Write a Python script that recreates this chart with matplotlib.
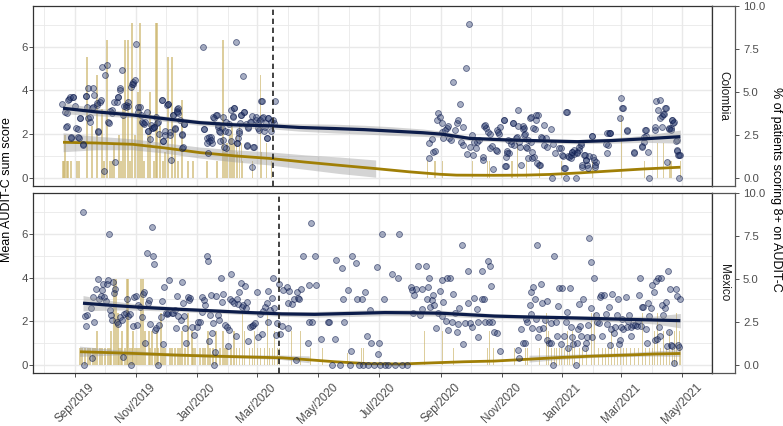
import numpy as np
import matplotlib
matplotlib.use("Agg")
import matplotlib.pyplot as plt
import matplotlib.dates as mdates

plt.rcParams['font.family'] = ['Liberation Sans', 'DejaVu Sans']

# ---------------- data (day offsets from 2019-09-01) ----------------
# Colombia: daily mean AUDIT-C sum score
col_days = [
    -13, -10, -8, -6, -4, -2, 1, 3, 4, 5, 8, 11, 12, 13, 15, 17, 18, 19, 22, 23, 25, 27, 29, 30, 32, 33, 35, 37, 39, 40,
    43, 45, 47, 48, 51, 53, 56, 58, 61, 63, 65, 67, 69, 73, 75, 77, 79, 82, 84, 87, 88, 90, 93, 95, 96, 98, 100, 102, 103,
    102, 105, 107, 107, 109, 128, 129, 132, 133, 134, 136, 137, 139, 142, 143, 144, 145, 147, 148, 150, 151, 153, 154, 156,
    158, 159, 161, 162, 163, 164, 165, 166, 168, 169, 171, 172, 173, 175, 177, 179, 177, 181, 183, 184, 186, 187, 189, 191,
    192, 193, 196, 199, 200,
    -8, -9, -7, -5, -2, 0, -4, 3, 5, 8, 11, 13, 15, 18, 22, 23, 26, 34, 37, 42, 43, 45, 49, 51, 53, 57, 58, 60, 63, 66, 68,
    70, 72, 73, 76, 78, 79, 81, 83, 87, 88, 90, 92, 93, 95, 98, 100, 102, 103, 107, 108, 109, 129, 132, 134, 136, 138, 141,
    143, 145, 148, 149, 151, 156, 158, 159, 162, 164, 166, 169, 172, 173, 176, 178, 181, 183, 185, 187, 188, 190, 192, 193,
    196, 198,
    354, 354, 357, 358, 360, 362, 363, 365, 367, 367, 368, 370, 372, 373, 374, 376, 378, 380, 382, 383, 385, 386, 388, 388,
    391, 392, 394, 395, 397, 398, 399, 401, 402, 404, 408, 409, 411, 413, 415, 417, 418, 422, 422, 424, 429, 431, 431, 432,
    434, 436, 438, 439, 441, 443, 444, 446, 448, 449, 450, 452, 453, 455, 457, 458, 460, 461, 462, 464, 466, 468, 470,
    472, 473, 477, 479, 478, 487, 489, 491, 492, 493, 494, 497, 498, 500, 502, 503, 505, 507, 508, 510, 512, 513, 514, 518,
    519, 521, 522, 533, 534, 535, 536, 546, 547, 548, 549, 553, 560, 568, 570, 571, 572, 574, 575, 581, 582, 584, 586, 586,
    588, 589, 591, 593, 595, 597, 598, 599, 603, 603, 604, 606, 605,
    408, 410, 415, 421, 423, 425, 429, 430, 432, 433, 436, 438, 442, 443, 445, 448, 449, 451, 453, 456, 458, 459, 462, 463,
    465, 467, 470, 481, 485, 488, 490, 492, 495, 497, 498, 500, 503, 505, 507, 508, 511, 512, 515, 518, 520, 521, 532, 533,
    536, 553, 560, 568, 570, 572, 581, 588, 590, 592, 595, 597, 598, 600, 602, 603, 605]
col_scores = [
    3.36, 3.02, 2.37, 3.59, 1.83, 3.71, 2.29, 2.23, 1.83, 2.72, 1.53, 3.76, 3.25, 2.75, 2.57, 3.18, 4.10, 3.79, 3.33, 2.10,
    3.48, 5.09, 0.32, 4.70, 5.16, 2.54, 3.06, 2.95, 3.48, 0.73, 3.71, 4.10, 4.93, 2.87, 3.33, 3.30, 4.17, 4.29, 6.11, 3.02,
    3.25, 2.57, 2.45, 2.14, 1.76, 2.26, 2.34, 2.49, 1.99, 3.56, 1.68, 1.96, 3.36, 2.10, 0.81, 2.87, 2.23, 3.15, 2.95,
    3.06, 2.64, 1.96, 1.37, 2.45, 6.00, 2.23, 1.80, 1.12, 1.68, 1.88, 1.58, 2.72, 2.87, 2.34, 2.14, 1.68, 2.26, 2.80, 2.14,
    1.37, 2.08, 2.45, 1.68, 2.84, 3.18, 6.23, 1.58, 1.80, 2.14, 2.49, 2.87, 4.67, 3.00, 2.45, 1.47, 2.26, 2.57, 2.83, 1.42,
    0.50, 2.64, 2.49, 2.19, 3.51, 2.72, 2.14, 2.49, 1.83, 2.75, 2.57, 2.49, 3.51,
    2.98, 2.34, 3.56, 3.68, 3.68, 3.28, 1.88, 1.88, 2.72, 1.50, 3.74, 4.09, 2.78, 3.26, 3.41, 2.16, 3.56, 2.49, 3.10, 3.48,
    3.68, 4.00, 3.28, 3.22, 3.48, 4.31, 4.39, 4.49, 3.25, 2.87, 2.52, 2.57, 3.03, 2.16, 2.42, 2.26, 2.34, 2.78, 2.57, 3.56,
    1.70, 2.16, 3.33, 3.37, 1.96, 2.87, 2.26, 3.03, 3.17, 2.00, 1.42, 2.46, 2.22, 1.57, 1.88, 1.72, 2.78, 2.86, 2.41, 2.10,
    1.72, 1.42, 2.57, 3.10, 2.78, 3.17, 1.57, 2.03, 2.86, 3.03, 1.50, 2.34, 2.57, 1.42, 2.78, 2.26, 2.64, 3.51, 2.80, 2.34,
    1.84, 2.72, 2.16, 2.63,
    0.92, 1.58, 1.77, 1.19, 1.22, 2.64, 2.95, 2.80, 2.49, 2.08, 1.80, 2.19, 2.29, 2.38, 1.83, 1.73, 4.40, 2.19, 2.49, 2.64,
    3.36, 1.65, 2.34, 1.50, 5.04, 1.07, 7.03, 1.42, 1.96, 1.04, 1.65, 1.35, 1.65, 1.73, 0.96, 2.38, 2.29, 2.08, 1.37, 1.47,
    0.40, 2.19, 1.24, 1.99, 2.64, 0.96, 0.55, 1.22, 1.12, 1.68, 2.49, 1.50, 1.83, 2.38, 1.62, 0.58, 2.23, 1.96, 1.99, 1.37,
    0.89, 2.75, 1.65, 1.19, 0.96, 2.23, 2.64, 2.87, 0.58, 1.80, 1.50,
    1.83, 1.42, 2.23, 1.53, 0.00, 1.35, 1.01, 0.46, 0.00, 3.02, 1.01, 0.89, 1.19, 1.07, 0.00, 1.19, 1.27, 1.50, 0.50, 1.04,
    0.81, 0.58, 0.46, 1.92, 0.96, 0.50, 0.73, 1.12, 1.50, 2.03, 2.03, 2.75, 3.64, 3.18, 3.18, 2.14, 1.16, 1.47, 1.65, 2.19,
    1.90, 1.19, 0.00, 2.19, 3.51, 3.10, 3.56, 2.75, 2.34, 2.90, 3.18, 0.70, 2.23, 2.29, 2.64, 2.49, 1.73, 1.22, 1.04, 1.04,
    0.00,
    0.80, 2.41, 1.98, 1.28, 2.11, 2.34, 2.64, 0.53, 1.11, 1.71, 1.54, 2.49, 1.88, 3.10, 1.42, 2.37, 2.26, 1.39, 1.74, 2.78,
    0.88, 2.26, 2.86, 0.66, 0.58, 1.88, 2.41, 1.11, 1.34, 1.04, 0.43, 3.01, 0.96, 1.04, 1.19, 1.28, 1.11, 1.42, 1.57, 0.58,
    1.04, 0.81, 1.00, 1.92, 0.81, 0.58, 1.54, 2.03, 2.03, 2.19, 1.11, 1.42, 1.88, 2.19, 2.34, 2.82, 2.90, 3.18, 2.26, 2.20,
    2.64, 2.57, 1.70, 1.28, 1.04]

# Mexico: daily mean AUDIT-C sum score
mex_days = [
    8, 9, 10, 11, 12, 16, 17, 18, 19, 21, 23, 24, 26, 27, 28, 29, 31, 32, 33, 34, 35, 36, 37, 38, 39, 40, 42, 43, 45, 47,
    48, 49, 51, 52, 53, 55, 56, 58, 59, 61, 62, 63, 65, 67, 68, 69, 70, 72, 73, 74, 75, 77, 78, 79, 80, 81, 83, 84, 86, 87,
    88, 89, 91, 92, 93, 94, 97, 98, 100, 101, 102, 103, 106, 107, 108, 109, 110, 111, 113, 114, 115, 117, 119, 122, 123,
    125, 127, 127, 129, 130, 132, 133, 134, 135, 136, 137, 138, 139, 140, 141, 143, 144, 146, 147, 148, 150, 152, 153, 154,
    155, 156, 157, 159, 161, 162, 163, 164, 166, 167, 168, 170, 171, 172, 173, 175, 177, 178, 180, 182, 183, 185, 187, 188,
    190, 192, 193, 193, 195, 197, 198, 199, 201, 202, 204, 205, 207, 208,
    212, 213, 213, 214, 217, 219, 221, 222, 223, 224, 226, 228, 233, 234, 234, 236, 237, 240, 241, 246, 253, 254, 257, 260,
    261, 265, 267, 268, 269, 273, 275, 276, 277, 281, 282, 284, 287, 288, 290, 292, 293, 295, 296, 299, 302, 303, 304, 305,
    307, 309, 310, 313, 317, 320, 323, 324, 327, 332, 336, 337, 338, 339, 341, 343, 345, 347, 347, 351, 352, 353, 354, 355,
    357, 358, 359, 361, 363, 365, 367, 367, 368, 371, 372, 373, 375, 377, 378, 380, 382, 383, 384, 387, 388, 390, 393, 393,
    395, 397, 399, 402, 403, 403, 407, 407, 409, 410, 413, 414, 415, 416, 417, 419,
    422, 425, 443, 444, 446, 448, 450, 451, 452, 455, 456, 457, 458, 459, 461, 462, 463, 464, 465, 467, 468, 469, 471, 473,
    473, 475, 477, 477, 479, 480, 482, 483, 484, 485, 487, 488, 490, 492, 493, 494, 496, 497, 498, 499, 502, 503, 504, 505,
    506, 507, 509, 511, 512, 513, 514, 515, 517, 517, 518, 520, 522, 523, 525, 526, 527, 528, 530, 532, 533, 535, 536, 537,
    538, 540, 541, 543, 544, 545, 546, 547, 548, 549, 552, 553, 554, 555, 557, 557, 559, 561, 563, 564, 565, 566, 567, 568,
    569, 572, 573, 574, 575, 577, 578, 580, 581, 582, 583, 584, 585, 586, 587, 588, 589, 591, 592, 593, 594, 595, 596, 597,
    598, 600, 602, 603, 604, 605, 606]
mex_scores = [
    7.00, 0.00, 2.24, 1.78, 2.29, 2.60, 0.30, 3.10, 1.98, 3.47, 3.92, 3.00, 3.16, 3.44, 3.71, 3.10, 2.95, 3.71, 3.89, 5.99,
    2.52, 2.29, 2.06, 3.82, 3.28, 3.47, 1.98, 1.87, 2.18, 2.08, 0.38, 2.34, 2.40, 3.00, 2.24, 2.34, 0.00, 1.78, 3.10, 3.16,
    1.82, 2.75, 2.64, 2.21, 3.25, 3.36, 0.99, 5.15, 2.85, 2.98, 1.87, 6.34, 5.00, 4.61, 1.60, 1.68, 0.00, 1.82, 2.21, 2.95,
    0.96, 3.59, 2.40, 2.34, 2.37, 3.89, 2.37, 2.40, 2.52, 1.68, 3.16, 2.24, 2.06, 3.82, 2.82, 2.24, 1.68, 0.99, 3.10, 2.98,
    3.05, 1.75, 1.37, 1.72, 1.98, 1.98, 2.44, 3.13, 2.98, 2.75, 5.00, 4.74, 1.11, 2.29, 3.21, 1.48, 1.91, 0.00, 0.60, 3.16,
    2.29, 2.06, 3.97, 2.90, 3.25, 1.82, 1.75, 0.87, 1.60, 3.00, 4.17, 2.95, 2.85, 1.33, 3.00, 2.79, 3.36, 3.77, 2.67, 2.75,
    3.62, 2.60, 2.90, 1.11, 1.72, 1.78, 1.82, 1.91, 3.36, 1.30, 2.34, 1.42, 2.49, 2.64, 2.85, 1.98, 3.41, 2.52, 3.05, 4.00,
    2.60, 1.37, 1.91, 3.73, 1.42, 1.78, 3.44,
    3.59, 2.85, 1.68, 3.41, 2.79, 3.00, 0.23, 3.36, 3.05, 3.00, 3.47, 5.00, 0.99, 3.66, 1.98, 6.49, 1.98, 5.00, 3.66, 1.21,
    1.98, 1.98, 0.00, 1.17, 4.81, 0.00, 4.43, 3.00, 1.98, 3.44, 0.00, 0.65, 5.00, 4.66, 3.00, 0.00, 3.00, 0.00, 3.36, 1.33,
    0.00, 2.52, 0.99, 0.00, 4.50, 0.52, 0.99, 0.00, 5.99, 3.00, 0.00, 0.00, 4.17, 0.00, 4.00, 5.99, 0.00, 0.00, 3.56, 3.44,
    2.37, 3.21, 3.47, 4.53, 2.29, 3.50, 2.55, 4.53, 3.00, 3.59, 4.00, 2.67, 2.98, 3.21, 2.75, 1.68, 2.37, 3.41, 3.89, 2.24,
    2.90, 2.03, 3.97, 1.60, 3.97, 1.98, 3.25, 2.37, 1.52, 1.87, 2.60, 5.50, 0.96, 1.94, 4.32, 2.85, 1.91, 1.72, 3.05, 2.55,
    1.30, 1.98, 4.32, 3.00, 3.00, 1.98, 4.74, 1.98, 4.53, 3.62, 1.98, 1.52,
    1.48, 0.65, 0.68, 0.30, 1.63, 0.99, 0.99, 2.09, 1.98, 2.75, 3.36, 2.34, 1.68, 3.56, 3.00, 2.09, 5.50, 1.30, 1.63, 3.71,
    2.85, 1.68, 2.06, 2.95, 1.14, 0.99, 0.99, 1.94, 0.00, 5.00, 1.98, 1.33, 2.70, 3.51, 0.96, 3.51, 1.33, 1.98, 2.44, 0.80,
    3.51, 1.75, 1.30, 0.96, 0.00, 0.99, 1.63, 2.79, 1.78, 1.33, 3.00, 0.76, 0.99, 1.27, 1.82, 5.83, 4.72, 2.60, 1.30, 4.00,
    2.29, 1.98, 1.94, 3.10, 3.21, 1.33, 3.21, 2.34, 1.87, 2.64, 0.93, 1.63, 3.25, 1.48, 1.72, 2.29, 3.00, 0.96, 1.14, 1.72,
    2.09, 1.63, 3.10, 1.72, 2.03, 2.29, 1.33, 1.75, 1.82, 1.82, 1.78, 2.03, 3.21, 4.00, 1.78, 2.64, 2.64, 1.63, 0.99, 2.82,
    2.24, 2.60, 3.66, 3.36, 1.14, 3.86, 1.21, 4.00, 1.75, 1.33, 4.00, 2.75, 2.29, 2.60, 2.90, 0.87, 4.32, 1.52, 3.47, 0.93,
    0.87, 0.11, 3.47, 3.16, 0.93, 0.84, 3.00]

# % of patients scoring 8+ (daily bars)
col_bar_days = [-12, -11, -10, -8, -7, -4, 2, 4, 12, 17, 22, 27, 29, 32, 35, 37, 39, 44, 46, 48, 50, 53, 55, 57, 60, 63,
                65, 67, 69, 73, 75, 79, 81, 82, 85, 88, 90, 93, 97, 100, 103, 107, 113, 118, 132, 142, 148, 150, 152, 155,
                157, 159, 162, 163, 165, 167, 168, 178, 186, 187, 192, 197, 353, 360, 361, 368, 398, 413, 415, 437, 438,
                443, 452, 465, 487, 518, 547, 570, 583, 589, 595, 596, 597, 606]
col_bar_pct = [1, 1, 2.5, 1, 1, 1, 1, 1, 7, 3, 6, 4, 1, 8, 1, 1, 2, 2.5, 1, 4, 8, 8, 1, 9, 2.5, 5,
               9, 3, 1, 2.5, 5, 1, 9, 9, 3, 1, 1.5, 7, 7, 3, 1, 4.5, 1, 1, 1, 1, 8, 1.5, 2, 2.5,
               3, 2, 2.5, 1.5, 3, 2, 1, 1, 6, 1.5, 2, 1, 1, 1, 1, 1, 1, 1, 1, 1, 1,
               2, 1, 1, 1, 1, 3.6, 1, 2, 2, 1, 1, 1, 1]
mex_bar_days = [5, 7, 10, 13, 15, 18, 20, 22, 25, 27, 30, 33, 35, 36, 39, 41, 43, 44, 46, 47, 50, 52, 53, 55, 57, 58, 60,
                62, 64, 66, 68, 70, 74, 75, 77, 80, 82, 83, 86, 88, 90, 95, 97, 100, 103, 105, 107, 110, 113, 117, 118,
                120, 125, 128, 130, 133, 135, 138, 141, 145, 148, 150, 152, 156, 159, 162, 165, 168, 170, 175, 178, 180,
                183, 186, 190, 193, 195, 198, 200, 203, 205, 217, 226, 236, 248, 273, 287, 289, 350, 368, 379, 413, 415,
                419, 440, 451, 453, 465, 472, 474, 477, 480, 482, 485, 487, 490, 493, 495, 498, 500, 505, 508, 512, 517,
                520, 524, 528, 531, 534, 537, 540, 543, 546, 549, 552, 556, 560, 564, 568, 571, 575, 578, 580, 583, 586,
                589, 592, 595, 598, 600, 602, 605, 606]
mex_bar_pct = [1, 1, 1, 1, 1, 1, 1, 2, 1, 1, 1, 1, 1, 2, 5, 5, 3, 1, 1, 2, 1, 5, 5, 1, 1, 2, 1,
               1, 1, 5, 5, 2, 2, 1, 2, 1, 2, 1, 3, 1, 1, 1, 1, 1, 1, 1, 2, 1, 3, 2, 1,
               1, 1, 1, 1, 2, 1, 1, 2, 1, 2, 1, 1, 1, 2, 1, 1, 3, 2, 1, 1, 2,
               1, 1, 1, 3, 1, 1, 2, 1, 1, 2, 2, 1, 1, 0.7, 1, 1, 2, 2, 1, 1, 2,
               1, 1, 1, 1, 1, 3, 2, 1, 1, 1, 1, 1, 1, 2, 1, 2, 1, 1, 1, 1, 3,
               3, 1, 1, 1, 1, 2, 1, 1, 1, 1, 1, 1, 1, 1, 3, 1, 1, 1, 2, 3, 1,
               2, 1, 2, 1, 2, 3, 2, 1]

# LOESS fits (mean score, and % 8+), with ribbon half-widths
col_fit_days = [-12, 20, 58, 90, 125, 160, 198, 225, 260, 290, 315, 348, 368, 395, 432, 475, 503, 537, 570, 606]
col_fit_mean = [3.18, 3.02, 2.87, 2.70, 2.52, 2.42, 2.37, 2.30, 2.25, 2.20, 2.14, 2.06, 1.99, 1.80, 1.73, 1.68, 1.65,
                1.70, 1.78, 1.88]
col_fit_half = [0.25, 0.18, 0.12, 0.12, 0.12, 0.13, 0.14, 0.17, 0.20, 0.20, 0.20, 0.17, 0.14, 0.10, 0.10, 0.10, 0.10,
                0.12, 0.16, 0.30]
col_pfit_days = [-12, 20, 58, 90, 125, 160, 195, 230, 265, 301, 335, 365, 382, 420, 450, 475, 505, 536, 570, 606]
col_pfit_pct = [2.06, 2.02, 1.94, 1.73, 1.46, 1.27, 1.12, 0.91, 0.72, 0.53, 0.34, 0.20, 0.15, 0.14, 0.15, 0.19, 0.28,
                0.39, 0.51, 0.61]
col_pfit_half = [0.55, 0.40, 0.32, 0.30, 0.32, 0.35, 0.38, 0.42, 0.48, 0.50, 0.55, 0.55, 0.55, 0.55, 0.55, 0.55, 0.60,
                 0.65, 0.70, 0.80]
mex_fit_days = [8, 40, 67, 100, 133, 170, 207, 240, 275, 310, 340, 367, 395, 420, 453, 487, 520, 553, 580, 606]
mex_fit_mean = [2.83, 2.72, 2.64, 2.56, 2.49, 2.41, 2.34, 2.32, 2.36, 2.40, 2.39, 2.37, 2.30, 2.24, 2.20, 2.17, 2.13,
                2.09, 2.06, 2.03]
mex_fit_half = [0.35, 0.20, 0.13, 0.11, 0.10, 0.10, 0.11, 0.13, 0.14, 0.14, 0.14, 0.13, 0.12, 0.11, 0.10, 0.10, 0.11,
                0.13, 0.18, 0.33]
mex_pfit_days = [5, 40, 70, 100, 135, 170, 207, 235, 260, 293, 327, 360, 390, 420, 455, 487, 520, 553, 580, 606]
mex_pfit_pct = [0.77, 0.71, 0.65, 0.58, 0.52, 0.47, 0.42, 0.30, 0.19, 0.08, 0.06, 0.13, 0.19, 0.23, 0.34, 0.44, 0.52,
                0.58, 0.64, 0.67]
mex_pfit_half = [0.30, 0.16, 0.11, 0.09, 0.09, 0.10, 0.13, 0.20, 0.25, 0.25, 0.25, 0.25, 0.25, 0.25, 0.20, 0.14, 0.11,
                 0.12, 0.15, 0.20]

countries = ['Colombia', 'Mexico']
lockdown_dates = ['2020-03-17', '2020-03-23']
tick_months = ['2019-09-01', '2019-11-01', '2020-01-01', '2020-03-01', '2020-05-01', '2020-07-01', '2020-09-01',
               '2020-11-01', '2021-01-01', '2021-03-01', '2021-05-01']
minor_months = ['2019-08-01', '2019-10-01', '2019-12-01', '2020-02-01', '2020-04-01', '2020-06-01', '2020-08-01',
                '2020-10-01', '2020-12-01', '2021-02-01', '2021-04-01']
tick_labels = ['Sep/2019', 'Nov/2019', 'Jan/2020', 'Mar/2020', 'May/2020', 'Jul/2020', 'Sep/2020', 'Nov/2020',
               'Jan/2021', 'Mar/2021', 'May/2021']

# ---------------- figure ----------------
W, H = 783, 426
fig = plt.figure(figsize=(W / 100, H / 100), dpi=100)


def rect(x0, y0, x1, y1):
    return [x0 / W, 1 - y1 / H, (x1 - x0) / W, (y1 - y0) / H]


base = mdates.date2num(np.datetime64('2019-09-01'))
K = 10 / 7.875  # secondary axis factor (% per score unit)
YLO, YHI = -0.375, 7.875

NAVY = '#0c1c4a'
GOLD = '#a07f06'
BAR = (0.80, 0.71, 0.42, 0.66)
RIB = (0.6, 0.6, 0.6, 0.42)
PT_FACE = (0.14, 0.21, 0.42, 0.40)
PT_EDGE = (0.06, 0.11, 0.30, 0.60)
GRID = '#e9e9e9'
BORDER = '#333333'
TXT = '#4d4d4d'

panels = [
    dict(days=col_days, scores=col_scores, bdays=col_bar_days, bpct=col_bar_pct,
         fd=col_fit_days, fm=col_fit_mean, fh=col_fit_half,
         pd_=col_pfit_days, pp=col_pfit_pct, ph=col_pfit_half, y0=5.7, y1=185.9),
    dict(days=mex_days, scores=mex_scores, bdays=mex_bar_days, bpct=mex_bar_pct,
         fd=mex_fit_days, fm=mex_fit_mean, fh=mex_fit_half,
         pd_=mex_pfit_days, pp=mex_pfit_pct, ph=mex_pfit_half, y0=193.0, y1=373.2),
]

major_x = [mdates.date2num(np.datetime64(d)) for d in tick_months]
minor_x = [mdates.date2num(np.datetime64(d)) for d in minor_months]

for i, p in enumerate(panels):
    ax = fig.add_axes(rect(33, p['y0'], 712, p['y1']))
    ax.set_facecolor('white')
    ax.set_xlim(base - 42.05, base + 637.7)
    ax.set_ylim(YLO, YHI)

    # grid
    ax.set_xticks(major_x)
    ax.set_xticks(minor_x, minor=True)
    ax.set_yticks([0, 2, 4, 6])
    ax.set_yticks([1, 3, 5, 7], minor=True)
    ax.grid(which='major', color=GRID, lw=1.0, zorder=0)
    ax.grid(which='minor', color=GRID, lw=0.6, zorder=0)
    ax.set_axisbelow(True)

    # bars (% scoring 8+), on the secondary scale
    bx = base + np.array(p['bdays'], dtype=float)
    bh = np.array(p['bpct'], dtype=float) / K
    ax.bar(bx, bh, width=1.35, color=BAR, linewidth=0, zorder=2)

    # gold smooth (% 8+)
    gx = base + np.array(p['pd_'], dtype=float)
    gm = np.array(p['pp'], dtype=float)
    gh = np.array(p['ph'], dtype=float)
    lo, hi = (gm - gh), (gm + gh)
    ax.fill_between(gx, lo / K, hi / K, where=lo >= 0, color=RIB, linewidth=0, zorder=3)
    ax.plot(gx, gm / K, color=GOLD, lw=2.0, zorder=4, solid_capstyle='butt')

    # points
    px = base + np.array(p['days'], dtype=float)
    ax.scatter(px, p['scores'], s=18, facecolors=[PT_FACE], edgecolors=[PT_EDGE], linewidths=0.6, zorder=5)

    # navy smooth (mean score)
    nx = base + np.array(p['fd'], dtype=float)
    nm = np.array(p['fm'], dtype=float)
    nh = np.array(p['fh'], dtype=float)
    ax.fill_between(nx, nm - nh, nm + nh, color=RIB, linewidth=0, zorder=6)
    ax.plot(nx, nm, color=NAVY, lw=2.3, zorder=7, solid_capstyle='butt')

    # lockdown line
    ax.axvline(mdates.date2num(np.datetime64(lockdown_dates[i])), color='#222222', lw=1.2,
               dashes=(3.2, 2.2), zorder=8)

    for s in ax.spines.values():
        s.set_color(BORDER)
        s.set_linewidth(0.9)
        s.set_zorder(10)

    ax.tick_params(axis='y', which='major', length=2.6, width=0.6, color=BORDER, pad=1.2,
                   labelsize=8.2, labelcolor=TXT)
    ax.tick_params(axis='y', which='minor', length=0)
    ax.tick_params(axis='x', which='minor', length=0)
    if i == 0:
        ax.tick_params(axis='x', which='major', length=0, labelbottom=False)
    else:
        ax.set_xticklabels(tick_labels, rotation=45, ha='center', va='top')
        ax.tick_params(axis='x', which='major', length=2.6, width=0.6, color=BORDER, pad=3.5,
                       labelsize=8.4, labelcolor=TXT)

    # strip with secondary axis
    sax = fig.add_axes(rect(712, p['y0'], 735.3, p['y1']))
    sax.set_facecolor('white')
    sax.set_xlim(0, 1)
    sax.set_ylim(YLO * K, 10.0)
    sax.set_xticks([])
    sax.yaxis.tick_right()
    sax.set_yticks([0, 2.5, 5.0, 7.5, 10.0])
    sax.set_yticklabels(['0.0', '2.5', '5.0', '7.5', '10.0'])
    sax.tick_params(axis='y', length=2.6, width=0.6, color=BORDER, pad=3.0, labelsize=8.2, labelcolor=TXT)
    for s in sax.spines.values():
        s.set_color('#555555')
        s.set_linewidth(0.9)
    sax.spines['left'].set_color(BORDER)
    sax.text(0.5, 0.5, countries[i], rotation=270, ha='center', va='center', fontsize=8.5,
             color='#1a1a1a', transform=sax.transAxes)

fig.text(7.5 / W, 1 - 189.5 / H, 'Mean AUDIT-C sum score', rotation=90, ha='center', va='center',
         fontsize=9, color='black')
fig.text(776 / W, 1 - 189.5 / H, '% of patients scoring 8+ on AUDIT-C', rotation=270, ha='center',
         va='center', fontsize=9, color='black')

fig.savefig('out.png', dpi=100, facecolor='white')
